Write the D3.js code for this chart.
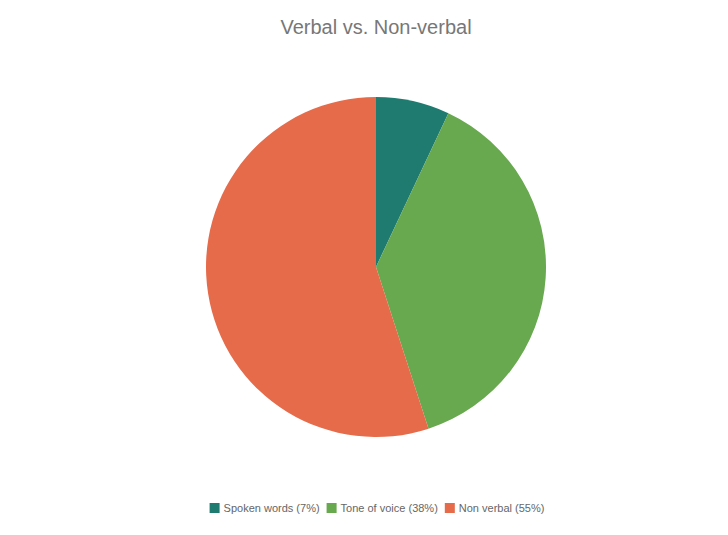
<!DOCTYPE html>
<html>
<head>
<meta charset="utf-8">
<script src="https://cdn.jsdelivr.net/npm/d3@7"></script>
<style>
  body { margin: 0; background: #fff; }
  svg { display: block; font-family: "Liberation Sans", Arial, sans-serif; }
</style>
</head>
<body>
<div id="chart"></div>
<script>
const width = 728;
const height = 535;

const labels = ["Spoken words", "Tone of voice", "Non verbal"];
const values = [7, 38, 55];
const colors = ["#1f7b70", "#68a84e", "#e56b4b"];

const svg = d3.select("#chart")
              .append("svg")
              .attr("width", width)
              .attr("height", height);

svg.append("text")
   .attr("x", 376)
   .attr("y", 34)
   .attr("text-anchor", "middle")
   .attr("font-size", 20)
   .attr("fill", "#777")
   .text("Verbal vs. Non-verbal");

const data = labels.map((l, i) => ({ label: l, value: values[i], color: colors[i] }));

const pie = d3.pie().sort(null).value(d => d.value);
const arc = d3.arc().innerRadius(0).outerRadius(170);

svg.append("g")
   .attr("transform", "translate(376, 267)")
   .selectAll("path")
   .data(pie(data))
   .enter()
   .append("path")
   .attr("d", arc)
   .attr("fill", d => d.data.color);

// legend, centered under the pie
const legend = svg.append("g");
const items = legend.selectAll("g")
                    .data(data)
                    .enter()
                    .append("g");

items.append("rect")
     .attr("width", 10)
     .attr("height", 10)
     .attr("y", -9)
     .attr("fill", d => d.color);

items.append("text")
     .attr("x", 14)
     .attr("font-size", 11)
     .attr("fill", "#666")
     .text(d => `${d.label} (${d.value}%)`);

let xPos = 0;
items.each(function() {
  d3.select(this).attr("transform", `translate(${xPos}, 0)`);
  xPos += this.getBBox().width + 7;
});
const total = xPos - 7;
legend.attr("transform", `translate(${377 - total / 2}, 512)`);
</script>
</body>
</html>
